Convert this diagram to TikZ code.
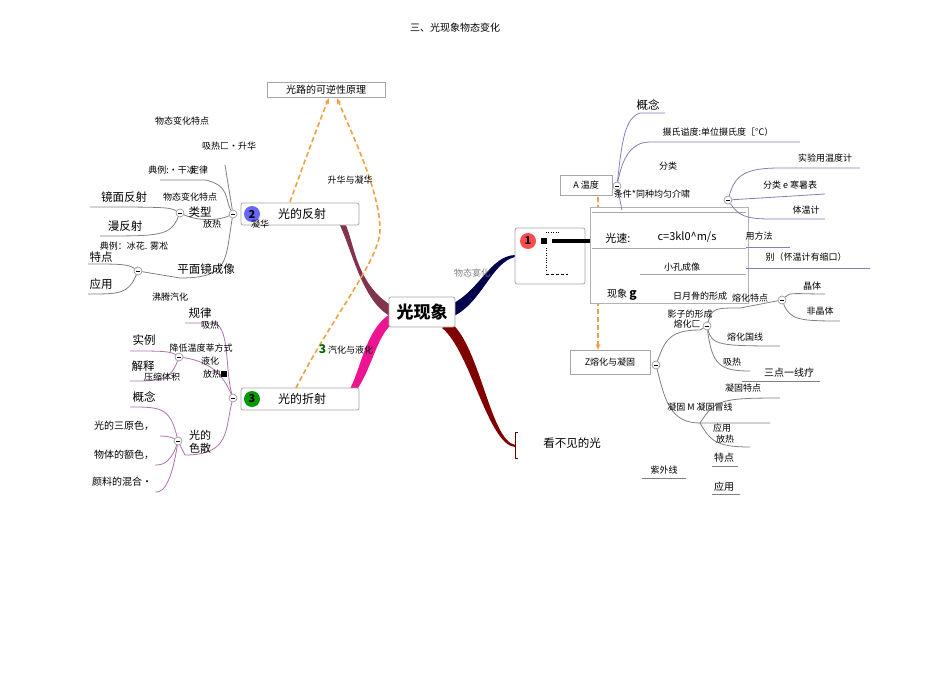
\documentclass[tikz,border=0pt]{standalone}
\usepackage{fontspec}
\setmainfont{Noto Sans CJK SC}
\usetikzlibrary{arrows.meta}
\definecolor{lp}{HTML}{B070B0}
\definecolor{lb}{HTML}{8080B8}
\definecolor{lg}{HTML}{808080}
\definecolor{org}{HTML}{F0A040}
\tikzset{
  t/.style={font=\fontsize{9}{10}\selectfont, inner sep=0pt},
  tb/.style={font=\fontsize{11.5}{12}\selectfont, inner sep=0pt},
  br/.style={draw=gray!70, rounded corners=2pt, fill=white, line width=0.8pt, font=\fontsize{12}{13}\selectfont},
  col/.style={circle, draw=gray!80, fill=white, inner sep=0pt, minimum size=8pt, line width=0.7pt},
  tl/.style={line width=0.8pt},
  da/.style={org, line width=1.6pt, dash pattern=on 5pt off 3pt, -{Stealth[length=6pt]}},
}
\newcommand{\mcol}[2]{\node[col] (#1) at #2 {}; \draw[line width=0.6pt] ($(#1)+(-2.2,0)$)--($(#1)+(2.2,0)$);}
\usetikzlibrary{calc}
\begin{document}
\begin{tikzpicture}[x=1pt,y=-1pt]
\useasboundingbox (0,0) rectangle (950,674);
\node[t,font=\fontsize{10}{11}\selectfont] (title) at (455,28) {三、光现象物态变化};

% main branches (tapered)
\fill[black!30!purple!60!gray] (392,306) .. controls (350,280) and (355,230) .. (340,216) -- (336,218) .. controls (350,240) and (360,300) .. (390,316) -- cycle;
\fill[magenta!90!pink] (392,313) .. controls (360,330) and (360,390) .. (340,400) -- (340,402) .. controls (368,395) and (372,340) .. (392,324) -- cycle;
\fill[blue!30!black] (452,304) .. controls (480,290) and (490,256) .. (515,255) -- (515,257) .. controls (492,262) and (482,302) .. (454,316) -- cycle;
\fill[red!50!black] (450,322) .. controls (480,345) and (490,440) .. (515,445) -- (515,447) .. controls (488,445) and (470,350) .. (442,328) -- cycle;

% central nodes
\node[br, font=\bfseries\fontsize{17}{18}\selectfont, minimum width=66pt, minimum height=30pt] (c) at (422,312) {光现象};
\node[draw=gray!70, fill=white, line width=0.8pt, font=\fontsize{10}{11}\selectfont\itshape, minimum width=118pt, minimum height=15pt, inner sep=1pt] (rev) at (326,90) {光路的可逆性原理};

% dashed arrows
\draw[da] (290,202) .. controls (305,160) and (320,120) .. (329,98);
\draw[da] (296,388) .. controls (330,320) and (380,260) .. (380,230) .. controls (380,190) and (350,130) .. (337,98);
\draw[da] (598,197) -- (598,350);

% branch 2
\node[br, minimum width=118pt, minimum height=22pt] (b2) at (300,214) {};
\node[tb, font=\fontsize{12}{13}\selectfont] (b2t) at (302,214) {光的反射};
\node[circle, fill=blue!60!white, text=black, font=\bfseries\fontsize{11}{11}\selectfont, inner sep=1pt, minimum size=16pt] (n2) at (252,214) {2};
% branch 3
\node[br, minimum width=118pt, minimum height=22pt] (b3) at (300,399) {};
\node[tb, font=\fontsize{12}{13}\selectfont] (b3t) at (302,399) {光的折射};
\node[circle, fill=green!60!black, text=black, font=\bfseries\fontsize{11}{11}\selectfont, inner sep=1pt, minimum size=16pt] (n3) at (252,399) {3};
% branch 1
\node[br, minimum width=70pt, minimum height=56pt] (b1) at (550,256) {};
\node[circle, fill=red!70!white, font=\bfseries\fontsize{11}{11}\selectfont, inner sep=1pt, minimum size=16pt] (n1) at (528,241) {1};
\draw[line width=4pt] (552,241) -- (592,241);
\fill (541,238) rectangle (547,244);
\draw[dotted] (546,232) -- (560,232);
\draw[dotted] (546,248) -- (546,272);
\draw[densely dashed] (546,274) -- (568,274);
% invisible light
\draw[tl, red!40!black] (518,432) -- (515,432) -- (515,458) -- (518,458);
\node[tb] (inv) at (572,443) {看不见的光};

% white overlay box
\node[draw=gray!60, fill=white, minimum width=158pt, minimum height=96pt] (ov) at (669,255) {};
\draw[gray!70] (592,212) -- (746,212);
\draw[gray!70] (592,248) -- (746,248);
\draw[gray!70] (640,274) -- (746,274);
\node[t, font=\fontsize{11}{12}\selectfont] (gs) at (618,238) {光速:};
\node[t, font=\fontsize{11}{12}\selectfont] (gsv) at (687,237) {\textit{c}=3kl0\^{}m/s};
\node[t] (xk) at (682,267) {小孔成像};
\node[t, font=\fontsize{10}{11}\selectfont] (xx) at (622,295) {现象 \textbf{\large g}};
\node[t] (ry) at (700,296) {日月骨的形成};

% A temperature and Z boxes
\node[draw=gray!70, fill=white, font=\fontsize{9}{10}\selectfont\itshape, minimum width=52pt, minimum height=20pt] (tmp) at (586,185) {A 温度};
\node[draw=gray!70, fill=white, font=\fontsize{9}{10}\selectfont, minimum width=80pt, minimum height=24pt] (zr) at (610,362) {\textit{Z}熔化与凝固};

% side labels
\node[t, lg] (wt) at (472,273) {物态宴化};
\node[t] (sh) at (350,180) {升华与凝华};
\node[t] (qh) at (346,349) {\textcolor{green!40!black}{\bfseries\fontsize{12}{12}\selectfont 3} 汽化与液化};

% ---- left of 2
\mcol{c2}{(233,214)}
\mcol{c2a}{(180,213)}
\mcol{c2b}{(138,271)}
\draw[tl, lg] (c2) .. controls (225,200) and (230,185) .. (205,180) -- (160,180);
\draw[tl, lg] (c2) -- (225,165);
\draw[tl, lg] (c2) .. controls (220,220) and (200,222) .. (c2a);
\draw[tl, lg] (c2) .. controls (225,260) and (230,278) .. (180,278) -- (c2b);
\draw[tl, lg] (c2a) .. controls (170,207) and (160,207) .. (90,207);
\draw[tl, lg] (c2a) .. controls (170,236) and (160,236) .. (100,236);
\draw[tl, lg] (c2b) .. controls (128,264) and (120,264) .. (88,264);
\draw[tl, lg] (c2b) .. controls (128,294) and (120,294) .. (88,294);
\node[t] at (182,121) {物态变化特点};
\node[t] at (229,146) {吸热匚•升华};
\node[t] at (172,170) {典例:•干冰};
\node[t] at (199,170) {定律};
\node[tb] at (124,197) {镜面反射};
\node[t] at (190,197) {物态变化特点};
\node[tb] at (200,212) {类型};
\node[t] at (212,224) {放热};
\node[t] at (260,224) {凝华};
\node[tb] at (125,226) {漫反射};
\node[t] at (134,246) {典例：冰花. 雾凇};
\node[tb] at (101,257) {特点};
\node[tb] at (206,269) {平面镜成像};
\node[tb] at (101,284) {应用};
\node[t] at (170,297) {沸腾汽化};

% ---- left of 3
\mcol{c3}{(233,398)}
\mcol{c3a}{(179,357)}
\mcol{c3b}{(178,441)}
\draw[tl, lp] (c3) .. controls (225,370) and (230,330) .. (215,323) -- (185,323);
\draw[tl, lp] (c3) .. controls (225,380) and (215,362) .. (c3a);
\draw[tl, lp] (c3) .. controls (225,430) and (230,455) .. (185,455) -- (c3b);
\draw[tl, lp] (c3a) .. controls (170,351) and (160,351) .. (130,351);
\draw[tl, lp] (c3a) .. controls (170,381) and (160,381) .. (130,381);
\draw[tl, lp] (c3b) .. controls (170,407) and (160,407) .. (130,407);
\draw[tl, lp] (c3b) .. controls (170,436) and (160,436) .. (160,436);
\draw[tl, lp] (c3b) .. controls (170,465) and (160,465) .. (155,465);
\draw[tl, lp] (c3b) .. controls (170,492) and (160,492) .. (155,492);
\node[tb] at (200,313) {规律};
\node[t] at (210,325) {吸热};
\node[tb] at (144,340) {实例};
\node[t] at (201,348) {降低温度莘方式};
\node[t] at (210,361) {液化};
\node[tb] at (143,366) {解释};
\node[t] at (162,377) {压缩体积};
\node[t] at (215,374) {放热\rule{6pt}{6pt}};
\node[tb] at (144,397) {概念};
\node[tb, align=center, font=\fontsize{11}{13}\selectfont] at (200,442) {光的\\色散};
\node[t, font=\fontsize{10}{11}\selectfont] at (124,426) {光的三原色，};
\node[t, font=\fontsize{10}{11}\selectfont] at (124,455) {物体的额色，};
\node[t, font=\fontsize{10}{11}\selectfont] at (122,482) {颜料的混合·};

% ---- right side, temperature
\mcol{ct}{(617,186)}
\mcol{cf}{(728,200)}
\draw[tl, lb] (ct) .. controls (622,140) and (625,118) .. (640,113) -- (665,113);
\draw[tl, lb] (ct) .. controls (622,160) and (630,142) .. (650,142) -- (800,142);
\draw[tl, lb] (ct) -- (622,210);
\draw[tl, lb] (cf) .. controls (735,175) and (745,168) .. (780,168) -- (860,168);
\draw[tl, lb] (cf) -- (825,194);
\draw[tl, lb] (cf) .. controls (738,215) and (745,219) .. (770,219) -- (825,219);
\draw[tl, lb] (746,247) -- (790,247);
\draw[tl, lb] (746,268) -- (870,268);
\node[tb] at (648,105) {概念};
\node[t] at (718,132) {摄氏谥度:单位摄氏\textit{度［°C）}};
\node[t] at (668,166) {分类};
\node[t] at (652,194) {条件*同种均匀介啸};
\node[t] at (825,158) {实验用温度计};
\node[t] at (790,185) {分类 e 寒暑表};
\node[t] at (806,210) {体温计};
\node[t] at (759,236) {用方法};
\node[t] at (806,257) {别（怀温计有缩口）};

% ---- melting / solidification
\mcol{cz}{(656,365)}
\mcol{cr}{(707,326)}
\mcol{cj}{(782,300)}
\draw[tl, lg] (cz) .. controls (665,340) and (670,330) .. (700,330) -- (cr);
\draw[tl, lg] (cz) .. controls (665,400) and (670,423) .. (700,423) -- (770,423);
\draw[tl, lg] (cr) .. controls (712,308) and (715,308) .. (740,308) -- (cj);
\draw[tl, lg] (cr) .. controls (712,345) and (720,346) .. (780,346);
\draw[tl, lg] (cr) .. controls (712,365) and (720,371) .. (750,371);
\draw[tl, lg] (cj) .. controls (790,292) and (795,294) .. (825,294);
\draw[tl, lg] (cj) .. controls (790,320) and (800,321) .. (840,321);
\draw[tl, lg] (700,423) .. controls (715,400) and (720,398) .. (780,398);
\draw[tl, lg] (700,423) .. controls (710,440) and (715,447) .. (750,447);
\draw[tl, lg] (742,381) -- (820,381);
\draw[tl, lg] (712,466) -- (738,466);
\draw[tl, lg] (642,478) -- (686,478);
\draw[tl, lg] (712,494) -- (740,494);
\node[t] at (812,286) {晶体};
\node[t] at (820,311) {非晶体};
\node[t] at (750,298) {熔化特点};
\node[t] at (690,314) {影子的形成};
\node[t] at (687,324) {熔化匚};
\node[t] at (745,337) {熔化国线};
\node[t] at (732,362) {吸热};
\node[tb, font=\fontsize{10}{11}\selectfont] at (789,373) {三点一线疗};
\node[t] at (743,388) {凝固特点};
\node[t] at (700,407) {凝固 M 凝固冒线};
\node[t] at (722,428) {应用};
\node[t] at (725,439) {放热};
\node[tb, font=\fontsize{10}{11}\selectfont] at (724,458) {特点};
\node[t] at (664,470) {紫外线};
\node[tb, font=\fontsize{10}{11}\selectfont] at (724,487) {应用};
\end{tikzpicture}
\end{document}
